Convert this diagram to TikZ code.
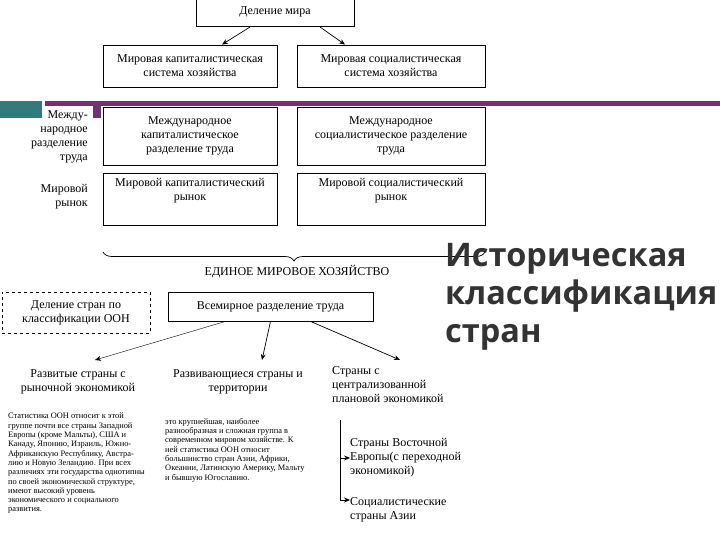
\documentclass[tikz,border=0pt]{standalone}
\usepackage{fontspec}
\setmainfont{Liberation Serif}
\newfontfamily\titlefont{Open Sans}
\usetikzlibrary{decorations.pathreplacing,arrows.meta}
\begin{document}
\begin{tikzpicture}[x=1pt,y=-1pt,
  bx/.style={draw,line width=0.8pt,align=center,font=\fontsize{12}{14}\selectfont,inner sep=0pt},
  tx/.style={align=center,font=\fontsize{12}{14}\selectfont,inner sep=0pt},
  sm/.style={align=left,font=\fontsize{8.4}{9.3}\selectfont,inner sep=0pt,anchor=north west},
  ar/.style={-{Stealth[length=6pt,width=5pt]},line width=0.7pt}]
\useasboundingbox (0,0) rectangle (720,540);
\fill[white] (0,0) rectangle (720,540);
% slide decoration
\fill[teal!70!black!80] (0,101) rectangle (42,118);
\fill[violet!60!black!80] (45,101) rectangle (720,106);
\fill[violet!60!black!80] (93,101) rectangle (101,118);
% top
\node[bx,minimum width=158pt,minimum height=30pt,anchor=south] (dm) at (275,27) {Деление мира};
\node[bx,minimum width=174pt,minimum height=42pt] (k1) at (190,66) {Мировая капиталистическая\\система хозяйства};
\node[bx,minimum width=188pt,minimum height=42pt] (s1) at (391,66) {Мировая социалистическая\\система хозяйства};
\draw[ar] ([xshift=-25pt]dm.south) -- (k1.north east -| 222,45);
\draw[ar] ([xshift=45pt]dm.south) -- (s1.north -| 345,45);
\node[bx,minimum width=174pt,minimum height=58pt] (k2) at (190,136) {Международное\\капиталистическое\\разделение труда};
\node[bx,minimum width=188pt,minimum height=58pt] (s2) at (391,136) {Международное\\социалистическое разделение\\труда};
\node[bx,minimum width=174pt,minimum height=52pt] (k3) at (190,199) {Мировой капиталистический\\рынок\\[6pt]};
\node[bx,minimum width=188pt,minimum height=52pt] (s3) at (391,199) {Мировой социалистический\\рынок\\[6pt]};
\node[tx,align=right,anchor=north east] (l1) at (88,110) {Между-\\народное\\разделение\\труда};
\node[tx,align=right,anchor=north east] (l2) at (88,184) {Мировой\\рынок};
\coordinate (bL) at (103,252);
\coordinate (bR) at (485,252);
\draw[decorate,decoration={brace,amplitude=9pt},line width=0.7pt] (bR) -- (bL);
\node[tx] (em) at (297,272) {ЕДИНОЕ МИРОВОЕ ХОЗЯЙСТВО};
% lower
\node[bx,dashed,minimum width=148pt,minimum height=41pt] (oon) at (76,312.5) {Деление стран по\\классификации ООН};
\node[bx,minimum width=205pt,minimum height=29pt] (vr) at (270.5,306.5) {Всемирное разделение труда};
\coordinate (a1) at (95,360);
\coordinate (a2) at (262,360);
\coordinate (a3) at (400,360);
\draw[ar,line width=0.4pt] ([xshift=-45pt]vr.south) -- (a1);
\draw[ar] (vr.south) -- (a2);
\draw[ar] ([xshift=40pt]vr.south) -- (a3);
\node[tx] (r1) at (78,382) {Развитые страны с\\рыночной экономикой};
\node[tx] (r2) at (238,382) {Развивающиеся страны и\\территории};
\node[tx,align=left,anchor=north west] (r3) at (332,366) {Страны с\\централизованной\\плановой экономикой};
\node[sm] (p1) at (8,413) {Статистика ООН относит к этой\\группе почти все страны Западной\\Европы (кроме Мальты), США и\\Канаду, Японию, Израиль, Южно-\\Африканскую Республику, Австра-\\лию и Новую Зеландию. При всех\\различиях эти государства однотипны\\по своей экономической структуре,\\имеют высокий уровень\\экономического и социального\\развития.};
\node[sm] (p2) at (165,418) {это крупнейшая, наиболее\\разнообразная и сложная группа в\\современном мировом хозяйстве. К\\ней статистика ООН относит\\большинство стран Азии, Африки,\\Океании, Латинскую Америку, Мальту\\и бывшую Югославию.};
\coordinate (vt) at (340,420);
\coordinate (vb) at (340,500);
\node[tx,align=left,anchor=west] (e1) at (350,458) {Страны Восточной\\Европы(с переходной\\экономикой)};
\node[tx,align=left,anchor=west] (e2) at (350,510) {Социалистические\\страны Азии};
\draw[line width=0.8pt] (vt) -- (vb);
\draw[ar] (340,458) -- (e1.west);
\draw[ar] (vb) -- (e2.west |- vb);
% title
\node[font=\titlefont\bfseries\fontsize{32.5}{38}\selectfont,text=black!80,align=left,anchor=north west,inner sep=0pt] (ttl) at (445,243) {Историческая\\классификация\\стран};
\end{tikzpicture}
\end{document}
